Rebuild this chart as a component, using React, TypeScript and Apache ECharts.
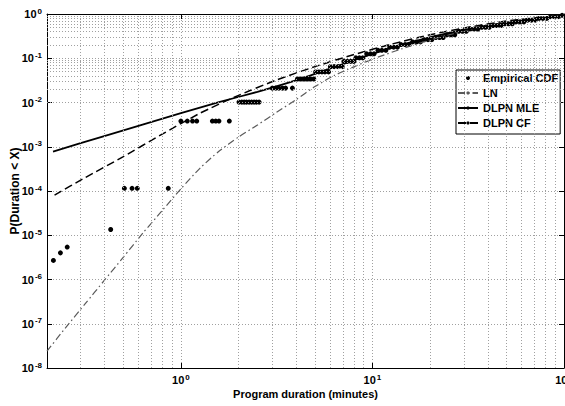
import React, { useEffect, useRef } from 'react';
import * as echarts from 'echarts';

const FONT = 'Liberation Sans, Arial, Helvetica, sans-serif';

// Empirical CDF points [duration (minutes), P(Duration < X)]
const empiricalCdf: [number, number][] = [
  [0.216, 2.7e-6], [0.235, 4.0e-6], [0.255, 5.4e-6], [0.43, 1.35e-5],
  [0.507, 1.15e-4], [0.556, 1.15e-4], [0.592, 1.15e-4], [0.859, 1.15e-4],
  [1.0, 3.8e-3], [1.08, 3.8e-3], [1.15, 3.8e-3], [1.21, 3.8e-3], [1.46, 3.8e-3], [1.52, 3.8e-3], [1.58, 3.8e-3], [1.79, 3.8e-3],
  [2.01, 0.0102], [2.08, 0.0102], [2.14, 0.0102], [2.2, 0.0102], [2.27, 0.0102], [2.34, 0.0102], [2.41, 0.0102], [2.48, 0.0102], [2.56, 0.0102],
  [3.0, 0.0211], [3.13, 0.0211], [3.25, 0.0211], [3.39, 0.0211], [3.52, 0.0211], [3.82, 0.0211],
  [4.06, 0.0339], [4.22, 0.0339], [4.39, 0.0339], [4.56, 0.0339], [4.74, 0.0339], [4.94, 0.0339],
  [5.05, 0.049], [5.25, 0.049], [5.45, 0.049], [5.65, 0.049], [5.9, 0.049],
  [6.03, 0.0646], [6.31, 0.0646], [6.61, 0.0646], [6.95, 0.0646],
  [7.1, 0.0851], [7.4, 0.0851], [7.7, 0.0851], [8.0, 0.0851],
  [8.2, 0.102], [8.55, 0.102], [8.9, 0.102],
  [9.33, 0.126], [9.77, 0.126], [10.2, 0.126],
  [10.7, 0.151], [11.2, 0.151], [11.75, 0.151],
  [12.3, 0.178], [12.9, 0.178], [13.5, 0.178],
  [14.1, 0.204], [14.8, 0.204], [15.5, 0.204],
  [16.2, 0.234], [17.0, 0.234], [17.8, 0.234],
  [18.6, 0.263], [19.5, 0.263], [20.4, 0.263],
  [21.4, 0.295], [22.4, 0.295], [23.4, 0.295],
  [24.5, 0.339], [25.7, 0.339], [26.9, 0.339],
  [28.2, 0.407], [29.5, 0.407], [30.9, 0.407],
  [32.4, 0.457], [33.9, 0.457], [35.5, 0.457],
  [37.2, 0.501], [38.9, 0.501], [40.7, 0.501],
  [42.7, 0.55], [44.7, 0.55], [46.8, 0.55],
  [49.0, 0.603], [51.3, 0.603], [53.7, 0.603],
  [56.2, 0.661], [58.9, 0.661], [61.7, 0.661],
  [64.6, 0.724], [67.6, 0.724], [70.8, 0.724],
  [74.1, 0.794], [77.6, 0.794], [81.3, 0.794],
  [85.1, 0.871], [89.1, 0.871], [93.3, 0.871],
  [97.7, 0.933],
];

// LN fit
const lnX = [0.2, 0.251, 0.316, 0.398, 0.501, 0.631, 0.794, 1, 1.26, 1.58, 2.0, 2.51, 3.16, 3.98, 5.01, 6.31, 7.94, 10, 15.8, 25.1, 39.8, 63.1, 100];
const lnP = [2.4e-8, 8.3e-8, 2.8e-7, 9.5e-7, 3.2e-6, 1.1e-5, 3.5e-5, 1.12e-4, 3.3e-4, 7.9e-4, 1.66e-3, 3.1e-3, 6.0e-3, 0.0115, 0.0229, 0.0407, 0.063, 0.0955, 0.19, 0.339, 0.55, 0.776, 0.933];

// DLPN MLE fit
const mleX = [0.215, 0.398, 0.631, 1, 1.58, 2.51, 3.98, 6.31, 10, 15.8, 25.1, 39.8, 63.1, 100];
const mleP = [7.8e-4, 1.74e-3, 3.16e-3, 5.75e-3, 0.0102, 0.0174, 0.0316, 0.063, 0.126, 0.229, 0.372, 0.537, 0.724, 0.912];

// DLPN CF fit
const cfX = [0.219, 0.316, 0.501, 0.794, 1.26, 2.0, 3.16, 5.01, 7.94, 12.6, 20, 31.6, 50.1, 79.4, 100];
const cfP = [8.1e-5, 2.0e-4, 6.0e-4, 1.9e-3, 5.75e-3, 0.0145, 0.0324, 0.0646, 0.12, 0.209, 0.339, 0.501, 0.692, 0.851, 0.912];

// minor grid structure
const minorMultipliers = [2, 3, 4, 5, 6, 7, 8, 9];
const xDecades = [0.1, 1, 10];
const yDecades = [1e-8, 1e-7, 1e-6, 1e-5, 1e-4, 1e-3, 1e-2, 1e-1];

const X_MIN = 0.2;
const X_MAX = 100;
const Y_MIN = 1e-8;
const Y_MAX = 1;

const GRID_COLOR = '#a0a0a0';

function zip(xs: number[], ys: number[]) {
  return xs.map((x, i) => [x, ys[i]]);
}

function expLabel(v: number) {
  return `{b|10}{s|${Math.round(Math.log10(v))}}`;
}

const richLabel = {
  b: { fontFamily: FONT, fontSize: 11, fontWeight: 'bold', color: '#000', lineHeight: 14 },
  s: { fontFamily: FONT, fontSize: 8, fontWeight: 'bold', color: '#000', lineHeight: 9, verticalAlign: 'top', padding: [0, 0, 0, 1] },
};

export default function App() {
  const ref = useRef<HTMLDivElement>(null);
  useEffect(() => {
    const chart = echarts.init(ref.current!, null, { renderer: 'svg' });

    const minorX: number[] = [];
    xDecades.forEach((d) => minorMultipliers.forEach((m) => {
      const v = d * m;
      if (v > X_MIN + 1e-9 && v < X_MAX) minorX.push(v);
    }));
    const minorY: number[] = [];
    yDecades.forEach((d) => minorMultipliers.forEach((m) => minorY.push(d * m)));

    const axisLineStyle = { color: '#000', width: 1 };
    const lineCommon = { type: 'line', symbol: 'none', smooth: 0.2, z: 4 };
    const option: any = {
      animation: false,
      backgroundColor: '#fff',
      textStyle: { fontFamily: FONT },
      grid: { left: 47, top: 14, right: 1, bottom: 38, containLabel: false, outerBoundsMode: 'none' },
      legend: {
        data: ['Empirical CDF', 'LN', 'DLPN MLE', 'DLPN CF'],
        orient: 'vertical',
        left: 456,
        top: 70,
        itemWidth: 20,
        itemHeight: 4,
        itemGap: 1,
        padding: [1, 2, 4, 1],
        borderColor: '#000',
        borderWidth: 1,
        borderRadius: 0,
        backgroundColor: '#fff',
        selectedMode: false,
        textStyle: { fontFamily: FONT, fontSize: 11, fontWeight: 'bold', color: '#000', lineHeight: 14 },
      },
      xAxis: [
        {
          type: 'log', logBase: 10, min: X_MIN, max: X_MAX,
          name: 'Program duration (minutes)', nameLocation: 'middle', nameGap: 20, nameMoveOverlap: false,
          nameTextStyle: { fontFamily: FONT, fontSize: 11, fontWeight: 'bold', color: '#000' },
          axisLine: { show: true, lineStyle: axisLineStyle },
          axisTick: { show: true, inside: true, length: 5, lineStyle: axisLineStyle },
          axisLabel: {
            show: true, margin: 5, showMinLabel: false,
            formatter: (v: number) => (v < 0.5 ? '' : expLabel(v)),
            rich: richLabel,
          },
          splitLine: { show: true, lineStyle: { color: GRID_COLOR, type: [1, 2], width: 1 } },
        },
        {
          type: 'log', logBase: 10, min: X_MIN, max: X_MAX, position: 'top',
          axisLine: { show: true, lineStyle: axisLineStyle },
          axisTick: { show: true, inside: true, length: 5, lineStyle: axisLineStyle },
          axisLabel: { show: false },
          splitLine: { show: false },
        },
      ],
      yAxis: [
        {
          type: 'log', logBase: 10, min: Y_MIN, max: Y_MAX,
          name: 'P(Duration < X)', nameLocation: 'middle', nameGap: 26, nameMoveOverlap: false,
          nameTextStyle: { fontFamily: FONT, fontSize: 12, fontWeight: 'bold', color: '#000' },
          axisLine: { show: true, lineStyle: axisLineStyle },
          axisTick: { show: true, inside: true, length: 5, lineStyle: axisLineStyle },
          axisLabel: { show: true, margin: 5, formatter: (v: number) => expLabel(v), rich: richLabel },
          splitLine: { show: true, lineStyle: { color: GRID_COLOR, type: [1, 2], width: 1 } },
        },
        {
          type: 'log', logBase: 10, min: Y_MIN, max: Y_MAX, position: 'right',
          axisLine: { show: true, lineStyle: axisLineStyle },
          axisTick: { show: true, inside: true, length: 5, lineStyle: axisLineStyle },
          axisLabel: { show: false },
          splitLine: { show: false },
        },
      ],
      series: [
        {
          name: 'minor-grid',
          type: 'line',
          data: [],
          silent: true,
          symbol: 'none',
          z: 0,
          markLine: {
            silent: true,
            symbol: ['none', 'none'],
            label: { show: false },
            emphasis: { disabled: true },
            lineStyle: { color: GRID_COLOR, type: [1, 2], width: 1 },
            data: [
              ...minorX.map((v) => ({ xAxis: v })),
              ...minorY.map((v) => ({ yAxis: v })),
            ],
          },
        },
        {
          name: 'Empirical CDF',
          type: 'scatter',
          data: empiricalCdf,
          symbol: 'circle',
          symbolSize: 5,
          itemStyle: { color: '#000', opacity: 1 },
          z: 3,
        },
        {
          ...lineCommon,
          name: 'LN',
          data: zip(lnX, lnP),
          lineStyle: { color: '#5a5a5a', width: 1.2, type: [7, 3, 1.5, 3] },
          itemStyle: { color: '#5a5a5a' },
        },
        {
          ...lineCommon,
          name: 'DLPN MLE',
          data: zip(mleX, mleP),
          lineStyle: { color: '#000', width: 1.8, type: 'solid' },
          itemStyle: { color: '#000' },
        },
        {
          ...lineCommon,
          name: 'DLPN CF',
          data: zip(cfX, cfP),
          lineStyle: { color: '#000', width: 1.5, type: [8, 4] },
          itemStyle: { color: '#000' },
        },
      ],
    };
    chart.setOption(option);
    return () => chart.dispose();
  }, []);
  return (
    <div
      ref={ref}
      style={{ position: 'fixed', left: 0, top: 0, width: 565, height: 406, background: '#fff' }}
    />
  );
}
